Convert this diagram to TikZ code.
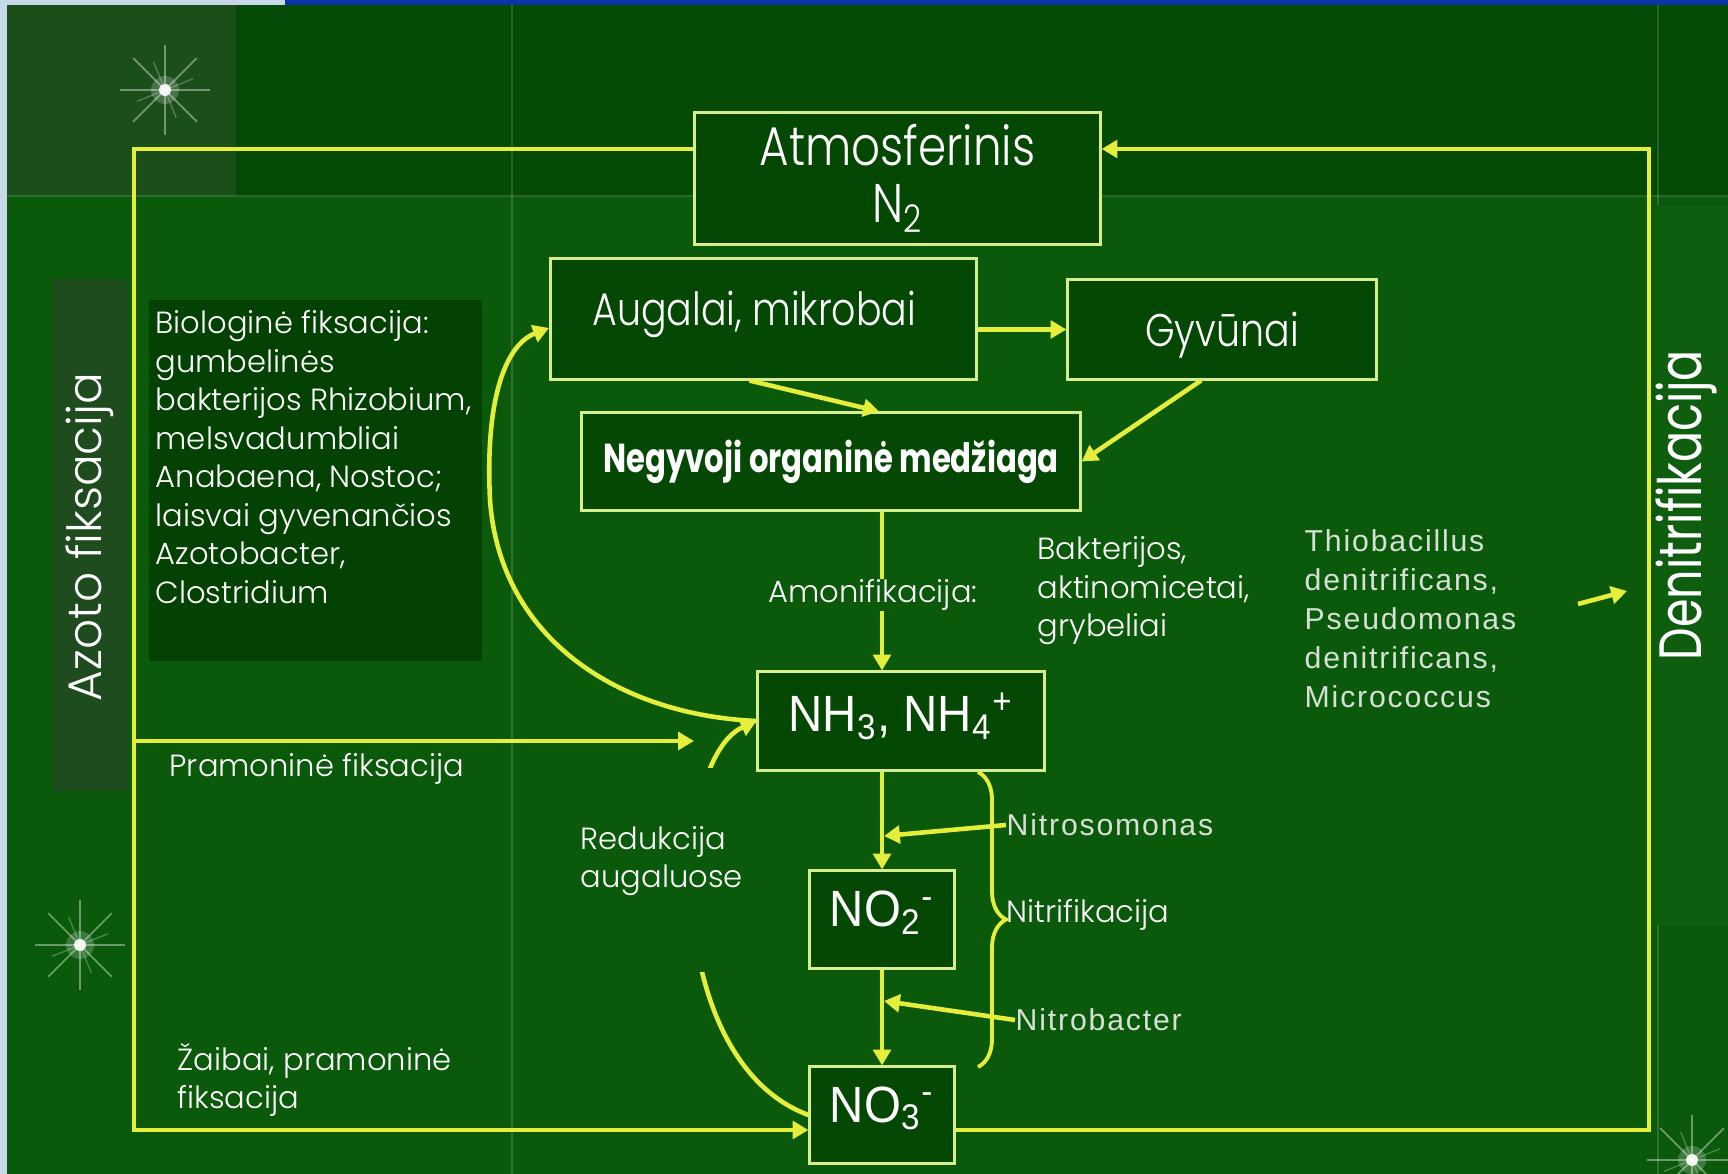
\documentclass[tikz,border=0pt]{standalone}
\usepackage{fontspec}
\IfFontExistsTF{Poppins Light}{\setmainfont{Poppins Light}[BoldFont=Poppins Bold]
  \newfontfamily\condfont[FakeStretch=0.83]{Poppins Light}}{\setmainfont{Poppins}
  \newfontfamily\condfont[FakeStretch=0.8]{Poppins}}
\newfontfamily\boldcond[FakeStretch=0.76]{Poppins Bold}
\newfontfamily\narrowfont[FakeStretch=0.77]{Poppins}
\newfontfamily\pixfont[LetterSpace=6]{Liberation Sans}
\newfontfamily\arialfont[FakeStretch=0.93]{Liberation Sans}
\usetikzlibrary{arrows.meta,decorations.pathreplacing}

\definecolor{bggreen}{RGB}{11,90,11}
\definecolor{topgreen}{RGB}{5,74,5}
\definecolor{darkpanel}{RGB}{3,66,3}
\definecolor{sidepanel}{RGB}{30,76,30}
\definecolor{boxfill}{RGB}{4,72,4}
\definecolor{boxline}{RGB}{214,238,140}
\definecolor{flowyellow}{RGB}{230,238,60}
\definecolor{microbegray}{RGB}{214,224,214}
\definecolor{paleblue}{RGB}{200,218,234}
\definecolor{deepblue}{RGB}{12,52,168}

\tikzset{
  box/.style={draw=boxline, line width=0.85pt, fill=boxfill, inner sep=0pt, text=white},
  flow/.style={draw=flowyellow, line width=1.3pt, -{Triangle[length=4.5pt,width=5pt]}},
  plain/.style={draw=flowyellow, line width=1.3pt},
  lbl/.style={text=white, font=\fontsize{8.7}{10.95}\selectfont, align=left, inner sep=0pt, anchor=west},
  microbe/.style={text=microbegray, font=\pixfont\fontsize{8.6}{11.1}\selectfont, align=left, inner sep=0pt, anchor=west},
}

\begin{document}
\begin{tikzpicture}[x=0.01cm, y=-0.01cm]
\useasboundingbox (0,0) rectangle (1728,1174);

% fonas
\fill[bggreen] (0,0) rectangle (1728,1174);
\fill[topgreen] (0,0) rectangle (1728,196);
\fill[sidepanel!80!bggreen] (7,5) rectangle (236,196);
\fill[bggreen!85!white, opacity=0.12] (1655,205) rectangle (1728,925);
\draw[white, opacity=0.15, line width=0.5pt] (512,5) -- (512,1174);
\draw[white, opacity=0.15, line width=0.5pt] (1658,5) -- (1658,205);
\draw[white, opacity=0.15, line width=0.5pt] (1658,925) -- (1658,1174);
\draw[white, opacity=0.12, line width=0.5pt] (7,196) -- (1728,196);
\fill[paleblue] (0,0) rectangle (7,1174);
\fill[paleblue] (0,0) rectangle (285,5);
\fill[deepblue] (285,0) rectangle (1728,5);

% žvaigždutės
\foreach \sx/\sy in {165/90, 80/945, 1692/1160} {
  \foreach \a in {0,45,...,315}
    \draw[white, opacity=0.4, line width=0.5pt] (\sx,\sy) -- ++(\a:0.45cm);
  \foreach \a in {22,112,...,292}
    \draw[white, opacity=0.25, line width=0.4pt] (\sx,\sy) -- ++(\a:0.3cm);
  \fill[white, opacity=0.2] (\sx,\sy) circle (0.14cm);
  \fill[white, opacity=0.9] (\sx,\sy) circle (0.06cm);
}

% tamsūs fonai tekstams
\fill[sidepanel] (53,279) rectangle (127,791);
\fill[darkpanel] (149,300) rectangle (482,661);

% dėžutės
\node[box, minimum width=4.05cm, minimum height=1.31cm, align=center,
      font=\condfont\fontsize{15.5}{16}\selectfont] (atm) at (897.5,178.5)
      {Atmosferinis\\N\textsubscript{2}};
\node[box, minimum width=4.25cm, minimum height=1.20cm, text depth=6pt,
      font=\condfont\fontsize{13}{15}\selectfont] (aug) at (763.5,319)
      {Augalai, mikrobai\hspace*{0.4em}};
\node[box, minimum width=3.08cm, minimum height=0.99cm, text height=13pt,
      font=\condfont\fontsize{13}{15}\selectfont] (gyv) at (1222,329.5) {Gyvūnai};
\node[box, minimum width=4.98cm, minimum height=0.97cm,
      font=\boldcond\fontsize{11.5}{13}\selectfont] (neg) at (831,461.5)
      {Negyvoji organinė medžiaga};
\node[box, minimum width=2.86cm, minimum height=0.98cm, text depth=5pt,
      font=\arialfont\fontsize{14.5}{16}\selectfont] (nh) at (901,721)
      {NH\textsubscript{3}, NH\textsubscript{4}\textsuperscript{+}};
\node[box, minimum width=1.44cm, minimum height=0.97cm, text depth=6pt,
      font=\arialfont\fontsize{14.5}{16}\selectfont] (no2) at (882,919.5)
      {NO\textsubscript{2}\textsuperscript{-}};
\node[box, minimum width=1.44cm, minimum height=0.96cm, text depth=6pt,
      font=\arialfont\fontsize{14.5}{16}\selectfont] (no3) at (882,1115)
      {NO\textsubscript{3}\textsuperscript{-}};

% ašis ir laisvi galai
\coordinate (axis) at (882,0);
\coordinate (tl) at (134,149);
\coordinate (bl) at (134,1130);
\coordinate (tr) at (1649,149);
\coordinate (br) at (1649,1130);
\coordinate (pram) at (694,741);
\coordinate (somo) at (884,836);
\coordinate (bact) at (884,1001);

% užrašai
\node[text=white, rotate=90, font=\fontsize{13.4}{15}\selectfont, inner sep=0pt]
  (azoto) at (90,537) {Azoto fiksacija};
\node[text=white, rotate=90, font=\narrowfont\fontsize{17}{18}\selectfont, inner sep=0pt]
  (deni) at (1686,505) {Denitrifikacija};
\node[lbl] (bio) at (155,457) {Biologinė fiksacija:\\gumbelinės\\bakterijos Rhizobium,\\melsvadumbliai\\Anabaena, Nostoc;\\laisvai gyvenančios\\Azotobacter,\\Clostridium};
\node[lbl] (pramlbl) at (169,769) {Pramoninė fiksacija};
\node[lbl] (zaibai) at (177,1080) {Žaibai, pramoninė\\fiksacija};
\node[lbl, anchor=center] (amon) at (873,595) {Amonifikacija:};
\node[lbl] (bakt) at (1037,591) {Bakterijos,\\aktinomicetai,\\grybeliai};
\node[microbe] (thio) at (1304,619) {Thiobacillus\\denitrificans,\\Pseudomonas\\denitrificans,\\Micrococcus};
\node[microbe] (nitroso) at (1006,825) {Nitrosomonas};
\node[lbl] (nitri) at (1006,915) {Nitrifikacija};
\node[microbe] (nitrob) at (1015,1020) {Nitrobacter};

% didysis ciklas
\draw[flow] (atm.west |- tl) -- (tl) -- (bl) -- (no3.west |- bl);
\draw[flow] (no3.east |- br) -- (br) -- (tr) -- (atm.east |- tr);
\draw[flow] (tl |- pram) -- (pram);

% organinė dalis
\draw[flow] (aug.east |- gyv.west) -- (gyv.west);
\draw[flow] ([xshift=-0.14cm]aug.south) -- ([xshift=0.48cm]neg.north);
\draw[flow] ([xshift=-0.21cm]gyv.south) -- (neg.east);
\draw[plain] (neg.south -| axis) -- (amon.north -| axis);
\draw[flow] (amon.south -| axis) -- (nh.north -| axis);

% biologinė fiksacija
\draw[flow] (nh.west) .. controls (620,715) and (500,640) .. (490,500)
  .. controls (485,400) and (505,345) .. (549,328);

% redukcija
\draw[flow] (no3.west) .. controls (660,1060) and (670,760) .. (nh.west);
\fill[bggreen] (567,768) rectangle (755,972);
\node[lbl] (redu) at (580,861) {Redukcija\\augaluose};

% nitrifikacija
\draw[flow] (nh.south -| axis) -- (no2.north);
\draw[flow] (no2.south) -- (no3.north);
\draw[flow] (nitroso.west) -- (somo);
\draw[flow] (nitrob.west) -- (bact);
\draw[plain, line width=1.1pt, decorate, decoration={brace, amplitude=0.28cm}]
  (978,772) -- (978,1067);

% denitrifikacija
\draw[flow] (1578,604) -- (1627,591);

\end{tikzpicture}
\end{document}
